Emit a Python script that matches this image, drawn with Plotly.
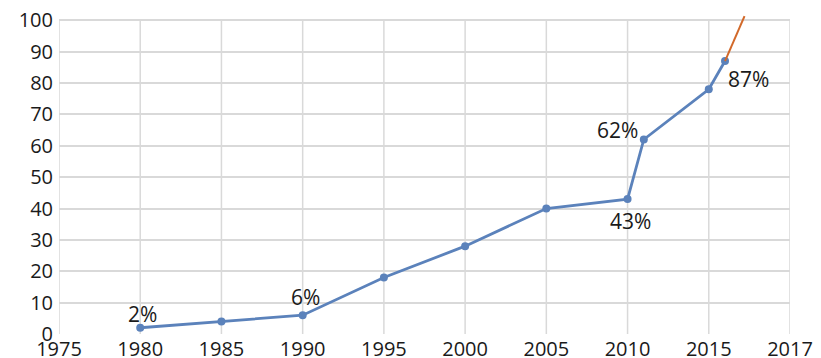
import plotly.graph_objects as go

# Share of households (%) by year
years = [1980, 1985, 1990, 1995, 2000, 2005, 2010, 2011, 2015, 2016]
values = [2, 4, 6, 18, 28, 40, 43, 62, 78, 87]

# Labelled points
label_years = [1980, 1990, 2010, 2011, 2016]
label_values = [2, 6, 43, 62, 87]
label_text = ["2%", "6%", "43%", "62%", "87%"]

# Projection segment
trend_years = [2016, 2017.2]
trend_values = [87, 101.3]

# Axis ticks
x_tickvals = [1975, 1980, 1985, 1990, 1995, 2000, 2005, 2010, 2015, 2020]
x_ticktext = ["1975", "1980", "1985", "1990", "1995", "2000", "2005", "2010", "2015", "2017"]
y_tickvals = [0, 10, 20, 30, 40, 50, 60, 70, 80, 90, 100]

grid_color = "#d9d9d9"
font_family = "Open Sans, DejaVu Sans, sans-serif"
# pixel offsets of each value label from its point (x right, y up)
label_shifts = [(2, 14), (3, 18), (3, -22), (-26, 9), (23, -18)]

fig = go.Figure()

fig.add_trace(go.Scatter(
    x=years, y=values, mode="lines+markers",
    line=dict(color="#5b82bb", width=2.8),
    marker=dict(color="#5b82bb", size=8),
    showlegend=False, hoverinfo="skip",
))

fig.add_trace(go.Scatter(
    x=trend_years, y=trend_values, mode="lines",
    line=dict(color="#d2692a", width=2),
    showlegend=False, hoverinfo="skip",
))

for xv, yv, txt, (dx, dy) in zip(label_years, label_values, label_text, label_shifts):
    fig.add_annotation(
        x=xv, y=yv, text=txt, showarrow=False,
        xshift=dx, yshift=dy, xanchor="center", yanchor="middle",
        font=dict(family=font_family, size=21, color="#1a1a1a"),
    )

# Vertical grid lines up to the 100 line
for xv in x_tickvals:
    fig.add_shape(type="line", xref="x", yref="y", x0=xv, x1=xv, y0=0, y1=100,
                  line=dict(color=grid_color, width=1.5), layer="below")

fig.update_layout(
    width=821, height=358,
    margin=dict(l=59, r=31, t=14, b=24),
    paper_bgcolor="white", plot_bgcolor="white",
    font=dict(family=font_family, size=20, color="#1a1a1a"),
)

fig.update_xaxes(
    range=[1975, 2020], tickvals=x_tickvals, ticktext=x_ticktext,
    showgrid=False, zeroline=False, showline=False, ticks="",
    tickfont=dict(size=20), automargin=False, ticklabelstandoff=1,
)
fig.update_yaxes(
    range=[0, 102], tickvals=y_tickvals,
    showgrid=True, gridcolor=grid_color, gridwidth=1.5,
    zeroline=False, showline=False, ticks="",
    tickfont=dict(size=20), ticklabelstandoff=5, automargin=False,
)

fig.write_html("out.html")
